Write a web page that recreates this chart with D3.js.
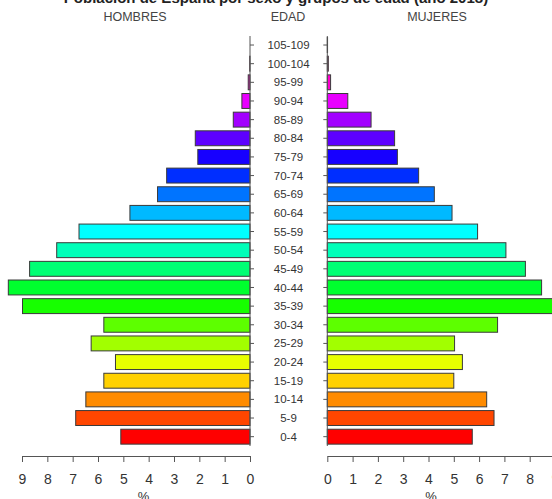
<!DOCTYPE html>
<html>
<head>
<meta charset="utf-8">
<script src="https://cdn.jsdelivr.net/npm/d3@7"></script>
<style>
  html, body { margin: 0; padding: 0; background: #fff; }
  svg { display: block; }
  text { font-family: "Liberation Sans", Arial, sans-serif; }
</style>
</head>
<body>
<svg id="chart" width="552" height="499"></svg>
<script>
const ageGroups = ["0-4","5-9","10-14","15-19","20-24","25-29","30-34","35-39","40-44","45-49","50-54","55-59","60-64","65-69","70-74","75-79","80-84","85-89","90-94","95-99","100-104","105-109"];
const hombres = [5.10,6.88,6.48,5.77,5.31,6.27,5.77,8.98,9.54,8.70,7.63,6.75,4.74,3.65,3.29,2.06,2.16,0.66,0.32,0.07,0.01,0.0];
const mujeres = [5.73,6.59,6.30,5.00,5.34,5.03,6.73,9.10,8.47,7.83,7.06,5.94,4.93,4.23,3.61,2.77,2.66,1.73,0.81,0.13,0.04,0.01];
const tickValues = [0,1,2,3,4,5,6,7,8,9];
const titleText = "Población de España por sexo y grupos de edad (año 2018)";

const svg = d3.select("#chart");
const colors = ageGroups.map((d, i) => d3.hsl(i * 360 / ageGroups.length, 1, 0.5).formatHex());

const y = d3.scaleBand().domain(ageGroups).range([446, 35.7]).paddingInner(0.2).paddingOuter(0.1);
const xL = d3.scaleLinear().domain([0, 9]).range([250, 22]);
const xR = d3.scaleLinear().domain([0, 9]).range([327.3, 555]);

// title (cut off at top, as in the reference)
svg.append("text").attr("x", 276).attr("y", 3).attr("text-anchor", "middle")
  .attr("font-size", 15).attr("font-weight", "bold").attr("fill", "#222").text(titleText);

// headers
const hdr = [["HOMBRES", 135], ["EDAD", 288], ["MUJERES", 437]];
svg.selectAll("text.hdr").data(hdr).enter().append("text").attr("class", "hdr")
  .attr("x", d => d[1]).attr("y", 21).attr("text-anchor", "middle")
  .attr("font-size", 12.5).attr("fill", "#444").text(d => d[0]);

// bars
const barStroke = "#3a3a3a";
svg.append("g").selectAll("rect").data(ageGroups).enter().append("rect")
  .attr("x", (d, i) => xL(hombres[i]))
  .attr("y", d => y(d))
  .attr("width", (d, i) => xL(0) - xL(hombres[i]))
  .attr("height", y.bandwidth())
  .attr("fill", (d, i) => colors[i])
  .attr("stroke", barStroke).attr("stroke-width", 1);

svg.append("g").selectAll("rect").data(ageGroups).enter().append("rect")
  .attr("x", xR(0))
  .attr("y", d => y(d))
  .attr("width", (d, i) => xR(mujeres[i]) - xR(0))
  .attr("height", y.bandwidth())
  .attr("fill", (d, i) => colors[i])
  .attr("stroke", barStroke).attr("stroke-width", 1);

// vertical axes with inner ticks
const axisColor = "#555";
const vL = svg.append("g").attr("transform", `translate(${xL(0)},0)`)
  .call(d3.axisRight(y).tickSize(4).tickFormat(""));
const vR = svg.append("g").attr("transform", `translate(${xR(0)},0)`)
  .call(d3.axisLeft(y).tickSize(4).tickFormat(""));
[vL, vR].forEach(g => {
  g.select(".domain").attr("d", `M0,36V446`).attr("stroke", axisColor);
  g.selectAll(".tick line").attr("stroke", axisColor);
});

// age labels
svg.append("g").selectAll("text").data(ageGroups).enter().append("text")
  .attr("x", 288.5).attr("y", d => y(d) + y.bandwidth() / 2)
  .attr("dy", "0.35em").attr("text-anchor", "middle")
  .attr("font-size", 11.5).attr("fill", "#333").text(d => d);

// bottom axes
function bottomAxis(scale) {
  const g = svg.append("g").attr("transform", "translate(0,456)")
    .call(d3.axisBottom(scale).tickValues(tickValues).tickSize(6).tickSizeOuter(0).tickPadding(12));
  g.select(".domain").attr("stroke", axisColor);
  g.selectAll(".tick line").attr("stroke", axisColor);
  g.selectAll(".tick text").attr("font-size", 14).attr("fill", "#333")
    .attr("font-family", "'Liberation Sans', Arial, sans-serif");
  return g;
}
bottomAxis(xL);
bottomAxis(xR);

// % labels (cut off at bottom, as in the reference)
svg.selectAll("text.pct").data([xL(4.2), xR(4.1)]).enter().append("text").attr("class", "pct")
  .attr("x", d => d).attr("y", 501).attr("text-anchor", "middle")
  .attr("font-size", 13).attr("fill", "#333").text("%");
</script>
</body>
</html>
